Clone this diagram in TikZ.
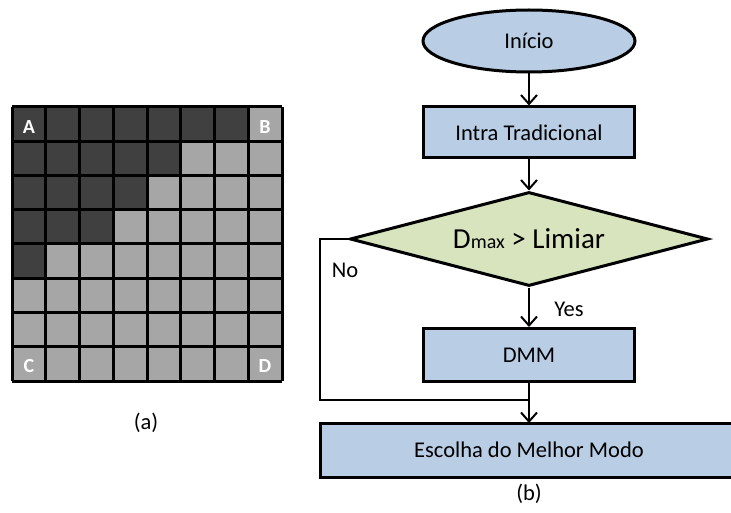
\documentclass[tikz,border=0pt]{standalone}
\usepackage{fontspec}
\setmainfont{Carlito}
\usetikzlibrary{shapes.geometric,arrows.meta}
\definecolor{boxblue}{HTML}{B9CDE5}
\definecolor{dgreen}{HTML}{D7E4BD}
\definecolor{darkcell}{HTML}{404040}
\definecolor{lightcell}{HTML}{A6A6A6}
\tikzset{
  procbox/.style={draw=black,line width=3pt,fill=boxblue,rectangle,inner sep=0pt,font=\fontsize{22.5}{26}\selectfont},
  flow/.style={line width=2pt,-{Straight Barb[length=9pt,width=16pt,line width=2pt]}},
  plain/.style={line width=2pt},
  lbl/.style={font=\fontsize{22.5}{26}\selectfont},
  corner/.style={text=white,font=\bfseries\fontsize{20}{24}\selectfont},
}
\begin{document}
\begin{tikzpicture}[x=1pt,y=-1pt]
\useasboundingbox (0,0) rectangle (731,513);
% grid (a)
\fill[lightcell] (12,107) rectangle (282,381);
\foreach \r/\n in {0/7,1/5,2/4,3/3,4/1}{
  \fill[darkcell] (12,{107+\r*34.25}) rectangle ({12+\n*33.75},{107+(\r+1)*34.25});
}
\foreach \i in {0,...,8}{
  \draw[line width=3pt] ({12+\i*33.75},107) -- ({12+\i*33.75},381);
  \draw[line width=3pt] (12,{107+\i*34.25}) -- (282,{107+\i*34.25});
}
\node[corner] (A) at (29,127) {A};
\node[corner] (B) at (265,127) {B};
\node[corner] (C) at (29,366) {C};
\node[corner] (D) at (265,366) {D};
\node[lbl] (capa) at (146,423) {(a)};
% flowchart (b)
\node[ellipse,draw=black,line width=3pt,fill=boxblue,minimum width=212pt,minimum height=62pt,inner sep=0pt,font=\fontsize{22.5}{26}\selectfont] (inicio) at (529,41) {Início};
\node[procbox,minimum width=211pt,minimum height=51pt] (intra) at (529,132.5) {Intra Tradicional};
\node[diamond,draw=black,line width=3pt,fill=dgreen,minimum width=358pt,minimum height=94pt,inner sep=0pt,aspect=3.8] (dec) at (529,239) {{\fontsize{29}{32}\selectfont D}{\fontsize{20}{24}\selectfont max}{\fontsize{29}{32}\selectfont{} > Limiar}};
\node[procbox,minimum width=211pt,minimum height=53pt] (dmm) at (529,355) {DMM};
\node[procbox,minimum width=420pt,minimum height=54pt,anchor=west] (esc) at (319,450) {};
\node[font=\fontsize{22.5}{26}\selectfont] (esct) at (529,450) {Escolha do Melhor Modo};
\coordinate (nol) at (320,239);
\coordinate (nob) at (320,400);
\coordinate (join) at (529,400);
\coordinate (esctop) at (529,423);
\draw[flow] (inicio.south) -- (intra.north);
\draw[flow] (intra.south) -- (dec.north);
\draw[flow] (dec.south) -- (dmm.north);
\draw[flow] (dmm.south) -- (esctop);
\draw[plain] (dec.west) -- (nol) -- (nob) -- (join);
\node[lbl] (no) at (345,270) {No};
\node[lbl] (yes) at (569,309) {Yes};
\node[lbl] (capb) at (529,494) {(b)};
\end{tikzpicture}
\end{document}
